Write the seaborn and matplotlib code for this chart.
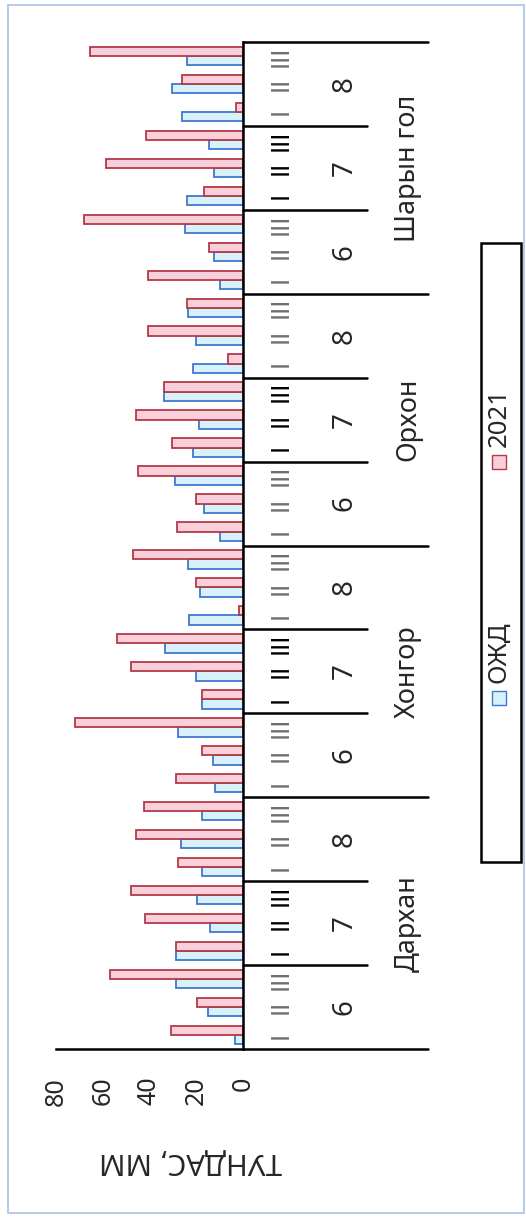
import numpy as np
import pandas as pd
import matplotlib.pyplot as plt
from matplotlib.patches import Rectangle
import seaborn as sns

stations = ["Дархан", "Хонгор", "Орхон", "Шарын гол"]
months = ["6", "7", "8"]
dekads = ["I", "II", "III"]
series = ["ОЖД", "2021"]

# dekad precipitation, mm (station -> month -> dekad)
ozhd = [3.4, 15.0, 28.5, 28.8, 14.0, 19.6, 17.5, 26.4, 17.5,
        11.9, 12.9, 27.7, 17.5, 20.1, 33.5, 23.2, 18.6, 23.4,
        9.7, 16.5, 29.2, 21.3, 18.9, 33.8, 21.3, 20.3, 23.5,
        10.0, 12.3, 24.6, 23.9, 12.3, 14.7, 26.0, 30.2, 23.9]
y2021 = [30.9, 19.6, 57.1, 28.8, 41.9, 47.9, 27.7, 45.8, 42.2,
         28.8, 17.5, 71.9, 17.5, 47.9, 53.8, 1.7, 20.1, 47.2,
         28.1, 20.1, 44.8, 30.2, 45.8, 33.8, 6.5, 40.8, 24.0,
         40.8, 14.4, 67.9, 16.8, 58.8, 41.5, 3.1, 26.0, 65.5]
value_ticks = [0, 20, 40, 60, 80]

fills = {"ОЖД": "#d9f1fb", "2021": "#f9d0da"}
edges = {"ОЖД": "#3f78d0", "2021": "#b33a48"}

slots = [f"{s}|{m}|{d}" for s in stations for m in months for d in dekads]
df = pd.DataFrame({
    "slot": slots * 2,
    "value": ozhd + y2021,
    "series": ["ОЖД"] * len(slots) + ["2021"] * len(slots),
})

sns.set_style("white")
plt.rcParams["font.family"] = ["Noto Sans", "DejaVu Sans"]

W, H = 526, 1231
fig = plt.figure(figsize=(W / 100, H / 100), dpi=100)
ax = fig.add_axes([56 / W, 182 / H, 187 / W, 1007 / H])

sns.barplot(data=df, y="slot", x="value", hue="series", order=slots,
            hue_order=series, orient="h", palette=fills, saturation=1,
            width=0.66, gap=0, legend=False, ax=ax, linewidth=1.3)
for cont, name in zip(ax.containers, series):
    for bar in cont:
        bar.set_edgecolor(edges[name])

# rotated layout: values grow to the left, categories go upward
ax.set_xlim(80, 0)
ax.set_ylim(-0.5, len(slots) - 0.5)
ax.set_yticks([])
ax.set_ylabel("")
ax.set_xticks(value_ticks)
ax.set_xticklabels([str(v) for v in value_ticks], rotation=90)
ax.tick_params(axis="x", length=0, pad=20, labelsize=18)
ax.set_xlabel("ТУНДАС, ММ", rotation=180, fontsize=21, va="center")
ax.xaxis.set_label_coords(0.717, -0.112)

for side in ["top", "left"]:
    ax.spines[side].set_visible(False)
for side in ["bottom", "right"]:
    ax.spines[side].set_color("black")
    ax.spines[side].set_linewidth(1.8)

# multi-level category labels
tr = ax.get_yaxis_transform()
for i, slot in enumerate(slots):
    s, m, d = slot.split("|")
    col = "black" if m == "7" else "#6e6e6e"
    ax.text(1.203, i, d, transform=tr, rotation=90, ha="center", va="center",
            fontsize=17, color=col, family="DejaVu Sans", clip_on=False)

for si, s in enumerate(stations):
    base = si * 9
    for mi, m in enumerate(months):
        ax.text(1.545, base + mi * 3 + 1, m, transform=tr, rotation=90,
                ha="center", va="center", fontsize=20, clip_on=False)
    for k in (3, 6):
        ax.plot([1.0, 1.663], [base + k - 0.5] * 2, transform=tr,
                color="black", lw=1.8, clip_on=False)
    ax.text(1.882, base + 4, s, transform=tr, rotation=90, ha="center",
            va="center", fontsize=19.5, clip_on=False)
for k in range(len(stations) + 1):
    ax.plot([1.0, 1.989], [k * 9 - 0.5] * 2, transform=tr, color="black",
            lw=1.8, clip_on=False)

# legend, drawn rotated like the rest of the chart
fig.add_artist(Rectangle((481 / W, 1 - 862 / H), 40 / W, 619 / H,
                         transform=fig.transFigure, fill=False,
                         ec="black", lw=1.8))
for name, my in [("ОЖД", 698), ("2021", 462)]:
    fig.add_artist(Rectangle(((499 - 7) / W, 1 - (my + 7) / H), 14 / W, 14 / H,
                             transform=fig.transFigure, fc=fills[name],
                             ec=edges[name], lw=1.0))
    fig.text(499 / W, 1 - (my - 15) / H, name, rotation=90,
             rotation_mode="anchor", ha="left", va="center", fontsize=18.5)

# outer frame
fig.add_artist(Rectangle((8 / W, 1 - 1213 / H), 516 / W, 1208 / H,
                         transform=fig.transFigure, fill=False,
                         ec="#a9c1e6", lw=1.2))

fig.savefig("out.png", dpi=100)
